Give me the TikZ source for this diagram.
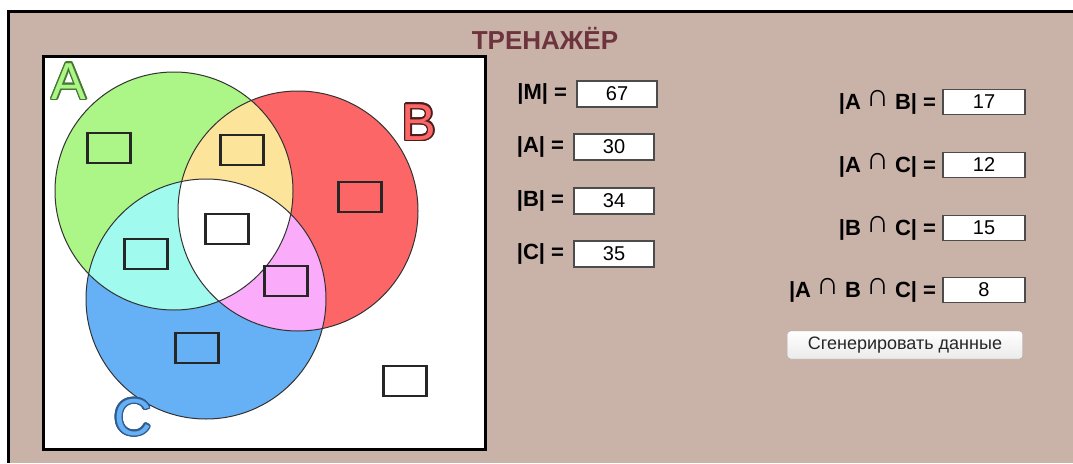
\documentclass[tikz,border=0pt]{standalone}
\usepackage{fontspec}
\setmainfont{Liberation Sans}
\usepackage[copies]{contour}
\usetikzlibrary{positioning}

\definecolor{bgbrown}{RGB}{201,178,168}
\definecolor{titlered}{RGB}{110,52,62}
\definecolor{setA}{RGB}{172,245,135}
\definecolor{setB}{RGB}{253,102,102}
\definecolor{setC}{RGB}{102,176,245}
\definecolor{setAB}{RGB}{252,228,155}
\definecolor{setAC}{RGB}{160,250,238}
\definecolor{setBC}{RGB}{250,172,250}
\definecolor{edgeA}{RGB}{70,120,50}
\definecolor{edgeB}{RGB}{75,30,30}
\definecolor{edgeC}{RGB}{50,90,140}

\newcommand{\capsym}{{\mdseries\fontsize{32}{32}\selectfont\raisebox{3pt}{∩}}}

\begin{document}
\begin{tikzpicture}[x=1pt, y=-1pt,
    field/.style={draw=black!70, line width=1.6pt, fill=white, minimum width=80pt,
      minimum height=26pt, inner sep=0pt, font=\fontsize{20}{20}\selectfont},
    cell/.style={draw=black!85, line width=2.2pt, minimum width=43pt, minimum height=30pt,
      inner sep=0pt},
    lab/.style={font=\bfseries\fontsize{22}{22}\selectfont, inner sep=0pt},
    setname/.style={font=\fontsize{52}{52}\selectfont, inner sep=0pt}]
    \useasboundingbox (0,0) rectangle (1073,463);

    % Page background
    \fill[bgbrown] (8,11) rectangle (1073,463);
    \draw[line width=3pt] (1073,11) -- (8,11) -- (8,463);
    \node[font=\bfseries\fontsize{26}{26}\selectfont, text=titlered] (title) at (545,38) {ТРЕНАЖЁР};

    % Canvas
    \draw[line width=3pt, fill=white] (43,56) rectangle (485,449);

    % Circles
    \fill[setA] (174,191) circle (119);
    \fill[setB] (298,211) circle (120);
    \fill[setC] (206,299) circle (120);
    \begin{scope}
        \clip (174,191) circle (119);
        \fill[setAB] (298,211) circle (120);
        \fill[setAC] (206,299) circle (120);
    \end{scope}
    \begin{scope}
        \clip (298,211) circle (120);
        \fill[setBC] (206,299) circle (120);
        \clip (174,191) circle (119);
        \fill[white] (206,299) circle (120);
    \end{scope}
    \draw[black!80, line width=1pt] (174,191) circle (119);
    \draw[black!80, line width=1pt] (298,211) circle (120);
    \draw[black!80, line width=1pt] (206,299) circle (120);

    % Set names
    \node[setname] (nameA) at (69,82) {\contourlength{1.4pt}\contour{edgeA}{\textcolor{setA}{A}}};
    \node[setname] (nameB) at (419,123) {\contourlength{1.4pt}\contour{edgeB}{\textcolor{setB}{B}}};
    \node[setname] (nameC) at (133,418) {\contourlength{1.4pt}\contour{edgeC}{\textcolor{setC}{C}}};

    % Region cells
    \node[cell] (cA) at (109,148) {};
    \node[cell] (cAB) at (242,150) {};
    \node[cell] (cB) at (360,197) {};
    \node[cell] (cABC) at (227,229) {};
    \node[cell] (cAC) at (146,254) {};
    \node[cell] (cBC) at (286,281) {};
    \node[cell] (cC) at (197,348) {};
    \node[cell] (cU) at (405,381) {};

    % Set sizes
    \node[field] (fM) at (617,94) {67};
    \node[field] (fA) at (614,147) {30};
    \node[field] (fB) at (614,201) {34};
    \node[field] (fC) at (614,254) {35};
    \node[lab, left=9pt of fM] (lM) {|M| =};
    \node[lab, left=9pt of fA] (lA) {|A| =};
    \node[lab, left=9pt of fB] (lB) {|B| =};
    \node[lab, left=9pt of fC] (lC) {|C| =};

    % Intersections
    \node[field, minimum width=82pt, minimum height=25pt] (fAB) at (984,102) {17};
    \node[field, minimum width=82pt, minimum height=25pt] (fAC) at (984,165) {12};
    \node[field, minimum width=82pt, minimum height=25pt] (fBC) at (984,228) {15};
    \node[field, minimum width=82pt, minimum height=25pt] (fABC) at (984,290) {8};
    \node[lab, left=6pt of fAB] (lAB) {|A\hspace{5pt}\capsym\hspace{6pt}B| =};
    \node[lab, left=6pt of fAC] (lAC) {|A\hspace{5pt}\capsym\hspace{6pt}C| =};
    \node[lab, left=6pt of fBC] (lBC) {|B\hspace{5pt}\capsym\hspace{6pt}C| =};
    \node[lab, left=6pt of fABC] (lABC) {|A\hspace{5pt}\capsym\hspace{6pt}B\hspace{5pt}\capsym\hspace{6pt}C| =};

    % Button
    \node[draw=black!35, rounded corners=3pt, top color=white, bottom color=black!8,
      minimum width=235pt, minimum height=28pt, inner sep=0pt,
      font=\fontsize{18}{18}\selectfont, text=black!85] (gen) at (905,345) {Сгенерировать данные};
\end{tikzpicture}
\end{document}
